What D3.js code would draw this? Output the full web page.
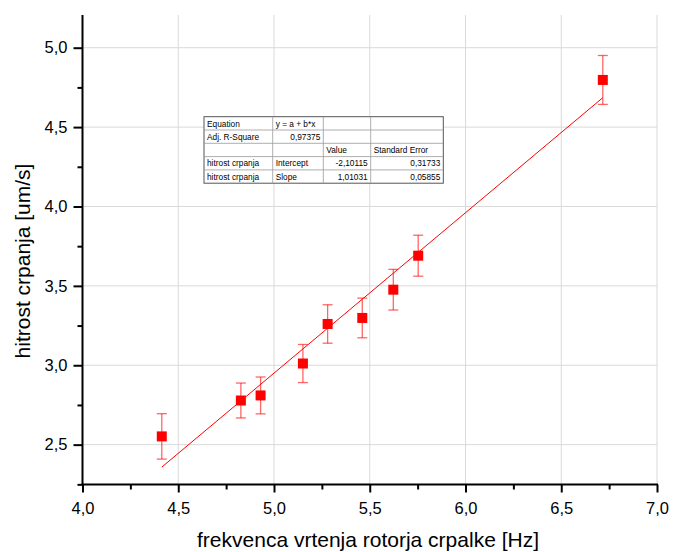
<html lang="en">
<head>
<meta charset="utf-8">
<title>hitrost crpanja</title>
<style>
  body { margin: 0; background: #fff; }
  svg text { font-family: "Liberation Sans", Arial, sans-serif; }
</style>
<script src="https://d3js.org/d3.v7.min.js"></script>
</head>
<body>
<svg id="chart" width="673" height="552"></svg>
<script>
var freq   = [4.414, 4.827, 4.930, 5.151, 5.280, 5.461, 5.623, 5.753, 6.717];
var speed  = [2.552, 2.778, 2.810, 3.011, 3.260, 3.298, 3.476, 3.690, 4.797];
var errors = [0.143, 0.110, 0.116, 0.120, 0.121, 0.125, 0.128, 0.129, 0.154];

// linear fit y = a + b*x
var fitA = -2.10115;
var fitB = 1.01031;

var xTicks = [4.0, 4.5, 5.0, 5.5, 6.0, 6.5, 7.0];
var yTicks = [2.5, 3.0, 3.5, 4.0, 4.5, 5.0];

// fit result table
var tableRows = [
  ["Equation", "y = a + b*x", "", ""],
  ["Adj. R-Square", "0,97375", "", ""],
  ["", "", "Value", "Standard Error"],
  ["hitrost crpanja", "Intercept", "-2,10115", "0,31733"],
  ["hitrost crpanja", "Slope", "1,01031", "0,05855"]
];

var svg = d3.select("#chart");
var fmt = function(d) { return d3.format(".1f")(d).replace(".", ","); };

var x = d3.scaleLinear().domain([4.0, 7.0]).range([82.5, 657]);
var y = d3.scaleLinear().domain([2.249, 5.206]).range([484.5, 15]);

// grid
svg.append("g").selectAll("line")
  .data(xTicks.slice(1))
  .enter().append("line")
    .attr("x1", d => x(d)).attr("x2", d => x(d))
    .attr("y1", y.range()[1]).attr("y2", y.range()[0])
    .style("stroke", "#d9d9d9").style("stroke-width", 1);
svg.append("g").selectAll("line")
  .data(yTicks)
  .enter().append("line")
    .attr("x1", x.range()[0]).attr("x2", x.range()[1])
    .attr("y1", d => y(d)).attr("y2", d => y(d))
    .style("stroke", "#d9d9d9").style("stroke-width", 1);

// axes
var xMinor = d3.range(4.25, 7.0, 0.5);
var yMinor = d3.range(2.25, 5.2, 0.5);

var gx = svg.append("g").attr("transform", "translate(0," + y.range()[0] + ")");
gx.call(d3.axisBottom(x).tickValues(xTicks).tickFormat(fmt).tickSize(8).tickPadding(10));
gx.append("g").call(d3.axisBottom(x).tickValues(xMinor).tickFormat("").tickSize(5))
  .select(".domain").remove();

var gy = svg.append("g").attr("transform", "translate(" + x.range()[0] + ",0)");
gy.call(d3.axisLeft(y).tickValues(yTicks).tickFormat(fmt).tickSize(9).tickPadding(6));
gy.append("g").call(d3.axisLeft(y).tickValues(yMinor).tickFormat("").tickSize(5))
  .select(".domain").remove();

gx.select(".domain").remove();
gy.select(".domain").remove();
gx.append("line").attr("x1", x.range()[0] - 1).attr("x2", x.range()[1] + 1)
  .attr("y1", 0).attr("y2", 0).style("stroke", "#000").style("stroke-width", 2);
gy.append("line").attr("x1", 0).attr("x2", 0)
  .attr("y1", y.range()[1]).attr("y2", y.range()[0])
  .style("stroke", "#000").style("stroke-width", 2);

svg.selectAll(".tick line").style("stroke", "#000").style("stroke-width", 2);
svg.selectAll(".tick text").style("font-size", "16.5px").style("font-family", "'Liberation Sans', Arial, sans-serif").attr("fill", "#000");

// axis titles
svg.append("text")
  .attr("x", 368).attr("y", 547)
  .attr("text-anchor", "middle").style("font-size", "21px")
  .text("frekvenca vrtenja rotorja crpalke [Hz]");
svg.append("text")
  .attr("transform", "translate(30,261) rotate(-90)")
  .attr("text-anchor", "middle").style("font-size", "21px")
  .text("hitrost crpanja [um/s]");

// fit line
var xMin = d3.min(freq), xMax = d3.max(freq);
svg.append("line")
  .attr("x1", x(xMin)).attr("y1", y(fitA + fitB * xMin))
  .attr("x2", x(xMax)).attr("y2", y(fitA + fitB * xMax))
  .style("stroke", "#ff0000").style("stroke-width", 1);

// error bars
var pts = freq.map((f, i) => ({x: f, y: speed[i], e: errors[i]}));
var eb = svg.append("g").style("stroke", "#ff0000").style("stroke-opacity", 0.6).style("stroke-width", 1.3);
eb.selectAll(".v").data(pts).enter().append("line")
  .attr("x1", d => x(d.x)).attr("x2", d => x(d.x))
  .attr("y1", d => y(d.y + d.e)).attr("y2", d => y(d.y - d.e));
eb.selectAll(".t").data(pts).enter().append("line")
  .attr("x1", d => x(d.x) - 5).attr("x2", d => x(d.x) + 5)
  .attr("y1", d => y(d.y + d.e)).attr("y2", d => y(d.y + d.e));
eb.selectAll(".b").data(pts).enter().append("line")
  .attr("x1", d => x(d.x) - 5).attr("x2", d => x(d.x) + 5)
  .attr("y1", d => y(d.y - d.e)).attr("y2", d => y(d.y - d.e));

// markers
svg.append("g").selectAll("rect").data(pts).enter().append("rect")
  .attr("x", d => x(d.x) - 5).attr("y", d => y(d.y) - 5)
  .attr("width", 10).attr("height", 10)
  .style("fill", "#ff0000");

// table
var colX = [204, 272.7, 323.3, 370.7, 443.3];
var rowH = 13.3, tableTop = 116.7;
var rightAligned = function(r, c) {
  return (r == 1 && c == 1) || (r >= 3 && c >= 2);
};
var tbl = svg.append("g");
tbl.append("rect")
  .attr("x", colX[0]).attr("y", tableTop)
  .attr("width", colX[4] - colX[0]).attr("height", rowH * tableRows.length)
  .style("fill", "#fff").style("stroke", "#555").style("stroke-width", 1);
for (var r = 1; r < tableRows.length; r++) {
  tbl.append("line").attr("x1", colX[0]).attr("x2", colX[4])
    .attr("y1", tableTop + r * rowH).attr("y2", tableTop + r * rowH)
    .style("stroke", "#999").style("stroke-width", 0.8);
}
for (var c = 1; c < 4; c++) {
  tbl.append("line").attr("x1", colX[c]).attr("x2", colX[c])
    .attr("y1", tableTop).attr("y2", tableTop + rowH * tableRows.length)
    .style("stroke", "#999").style("stroke-width", 0.8);
}
tableRows.forEach(function(row, r) {
  row.forEach(function(cell, c) {
    if (!cell) return;
    var right = rightAligned(r, c);
    tbl.append("text")
      .attr("x", right ? colX[c + 1] - 3 : colX[c] + 3)
      .attr("y", tableTop + r * rowH + 9.8)
      .attr("text-anchor", right ? "end" : "start")
      .style("font-size", "8.3px").attr("fill", "#000")
      .text(cell);
  });
});
</script>
</body>
</html>
